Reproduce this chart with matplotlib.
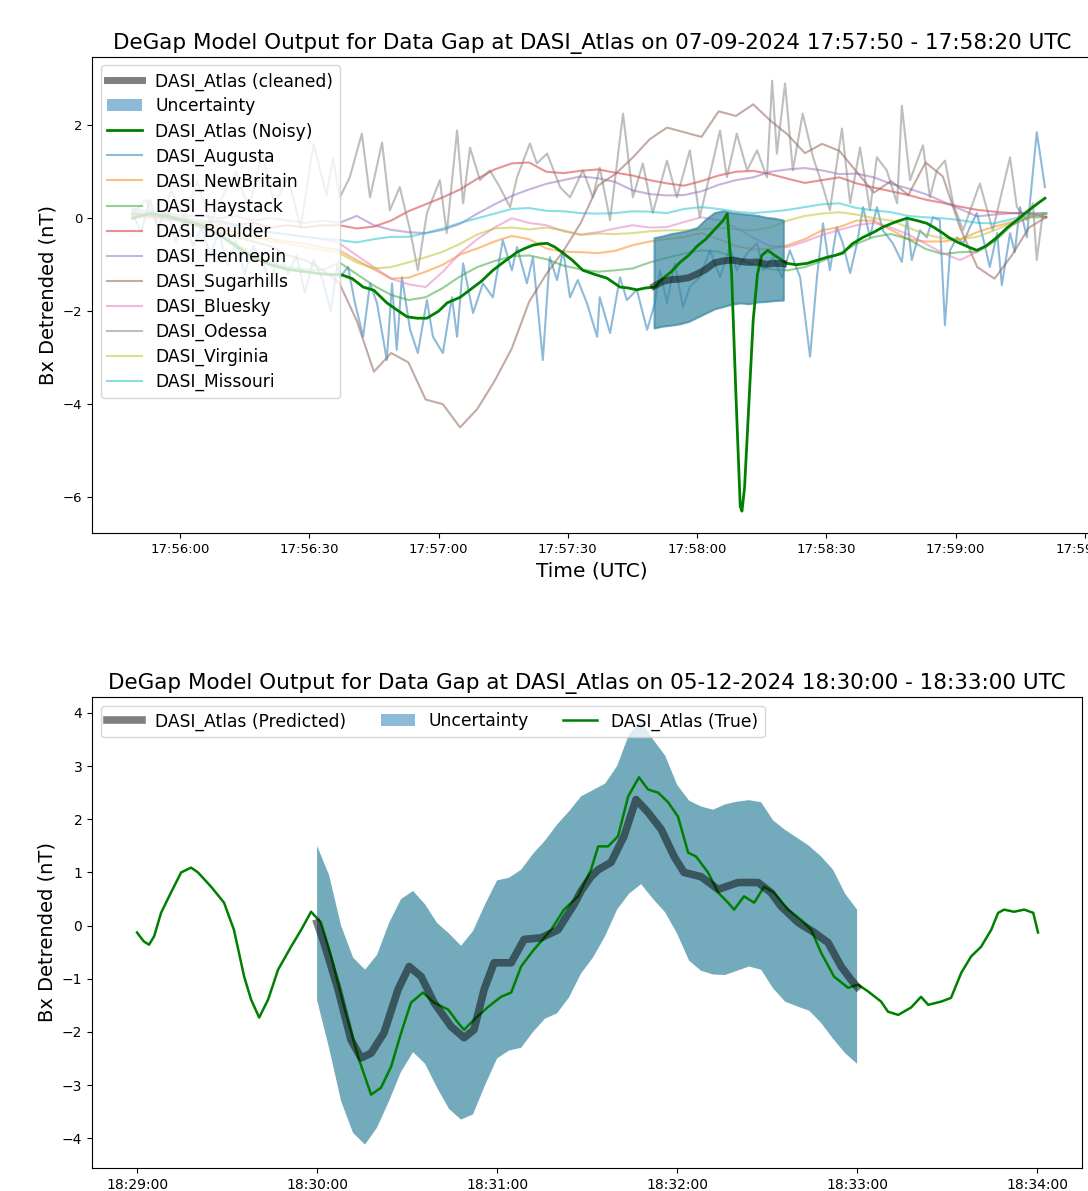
import matplotlib
matplotlib.use('Agg')
import matplotlib.pyplot as plt
import matplotlib.dates as mdates
from matplotlib.patches import Patch
from datetime import datetime, timedelta

# ---- top panel: 07-09-2024, seconds after 17:55:00 ----
grid_t = list(range(49, 262, 4))

new_britain = [0.10, 0.05, 0.0, -0.05, -0.15, -0.25, -0.30, -0.40, -0.45, -0.50, -0.55, -0.62, -0.69, -0.90,
               -1.10, -1.30, -1.28, -1.15, -1.00, -0.78, -0.65, -0.50, -0.38, -0.45, -0.65, -0.72, -0.73, -0.75,
               -0.70, -0.58, -0.50, -0.45, -0.40, -0.32, -0.45, -0.60, -0.67, -0.66, -0.58, -0.45, -0.26, -0.19,
               -0.05, -0.05, -0.25, -0.45, -0.50, -0.50, -0.45, -0.30, -0.18, -0.08, 0.03, 0.10]
haystack = [0.10, 0.05, 0.02, -0.05, -0.20, -0.32, -0.55, -0.80, -0.95, -1.05, -1.10, -1.12, -0.95, -1.20,
            -1.45, -1.65, -1.76, -1.70, -1.50, -1.25, -1.05, -0.92, -0.82, -0.80, -0.88, -1.02, -1.10, -1.15,
            -1.12, -1.08, -0.95, -0.85, -0.76, -0.69, -0.72, -0.85, -1.00, -1.10, -1.12, -1.05, -0.92, -0.76,
            -0.55, -0.40, -0.34, -0.45, -0.66, -0.77, -0.73, -0.72, -0.50, -0.15, 0.02, 0.02]
boulder = [0.10, 0.05, 0.0, -0.05, -0.10, -0.05, -0.15, -0.10, -0.20, -0.15, -0.20, -0.15, -0.15, -0.22,
           -0.18, -0.05, 0.15, 0.30, 0.45, 0.62, 0.85, 1.05, 1.18, 1.20, 1.00, 0.97, 1.02, 1.05, 0.98, 0.92,
           0.82, 0.75, 0.70, 0.80, 0.92, 1.00, 1.02, 0.95, 0.85, 0.76, 0.82, 0.88, 0.75, 0.66, 0.58, 0.50,
           0.40, 0.33, 0.25, 0.18, 0.14, 0.11, 0.10, 0.03]
hennepin = [0.20, 0.15, 0.10, 0.05, 0.05, 0.0, 0.05, -0.05, 0.0, -0.05, -0.10, -0.05, -0.10, 0.05, -0.15,
            -0.25, -0.30, -0.32, -0.25, -0.12, 0.10, 0.30, 0.48, 0.62, 0.74, 0.82, 0.90, 0.86, 0.78, 0.60,
            0.52, 0.49, 0.50, 0.58, 0.72, 0.82, 0.88, 1.00, 1.05, 1.08, 1.03, 0.95, 0.96, 0.88, 0.74, 0.64,
            0.52, 0.36, 0.20, 0.04, 0.08, 0.11, 0.12, 0.10]
sugarhills = [0.05, 0.10, 0.0, -0.10, -0.20, -0.30, -0.40, -0.50, -0.60, -0.80, -0.90, -1.10, -1.40, -2.20,
              -3.30, -2.90, -3.10, -3.90, -4.00, -4.50, -4.10, -3.50, -2.80, -1.80, -1.20, -0.70, -0.10, 0.70,
              0.95, 1.30, 1.70, 1.95, 1.85, 1.75, 2.30, 2.20, 2.45, 2.10, 1.80, 1.40, 1.60, 1.45, 1.00, 0.55,
              0.80, 0.50, 1.20, 0.90, -0.20, -1.05, -1.30, -0.80, -0.20, 0.02]
bluesky = [0.05, 0.0, -0.05, 0.0, -0.10, -0.15, -0.20, -0.25, -0.30, -0.35, -0.40, -0.45, -0.54, -0.80,
           -1.05, -1.30, -1.42, -1.48, -1.15, -0.75, -0.45, -0.20, 0.0, -0.10, -0.15, -0.28, -0.35, -0.30,
           -0.22, -0.15, -0.20, -0.19, -0.08, 0.02, -0.04, -0.20, -0.42, -0.60, -0.62, -0.50, -0.36, -0.25,
           -0.15, -0.10, -0.20, -0.35, -0.55, -0.75, -0.90, -0.72, -0.45, -0.15, 0.05, 0.08]
virginia = [0.15, 0.10, 0.05, 0.0, -0.10, -0.20, -0.30, -0.40, -0.50, -0.55, -0.62, -0.68, -0.75, -0.95,
            -1.08, -1.05, -0.95, -0.84, -0.72, -0.55, -0.35, -0.22, -0.20, -0.24, -0.20, -0.26, -0.36, -0.33,
            -0.34, -0.32, -0.28, -0.26, -0.26, -0.24, -0.20, -0.24, -0.26, -0.20, -0.05, 0.05, 0.10, 0.13,
            0.08, 0.0, -0.05, -0.20, -0.35, -0.43, -0.45, -0.40, -0.26, -0.10, 0.05, 0.11]
missouri = [0.15, 0.10, 0.05, 0.0, -0.05, -0.10, -0.15, -0.25, -0.30, -0.35, -0.40, -0.44, -0.47, -0.52,
            -0.45, -0.40, -0.40, -0.32, -0.22, -0.10, 0.0, 0.10, 0.20, 0.22, 0.16, 0.15, 0.11, 0.10, 0.11,
            0.15, 0.14, 0.11, 0.20, 0.24, 0.20, 0.14, 0.11, 0.14, 0.18, 0.24, 0.30, 0.32, 0.22, 0.17, 0.13,
            0.05, 0.02, 0.0, -0.04, -0.10, -0.11, -0.02, 0.08, 0.11]

augusta_t = [49, 51, 53, 55, 57, 59, 61, 63, 65, 67, 69, 71, 73, 75, 77, 79, 81, 83, 85, 87, 89, 91, 93, 95,
             96.5, 97.1, 99.0, 100.6, 102.5, 104.1, 105.7, 108.0, 109.2, 110.3, 111.5, 113.4, 115.2, 117.3,
             118.7, 121.0, 123.1, 124.3, 125.7, 128.0, 130.3, 132.6, 134.9, 137.0, 138.2, 140.5, 141.9, 144.2,
             145.8, 147.5, 148.9, 150.5, 152.3, 154.4, 156.8, 157.4, 159.8, 162.1, 163.7, 166.0, 168.4, 170.2,
             171.4, 173.0, 174.8, 176.7, 178.3, 180.6, 183.0, 185.3, 187.6, 189.2, 191.6, 193.9, 195.3, 197.6,
             199.7, 201.5, 203.9, 206.2, 207.8, 209.2, 210.8, 212.4, 213.8, 215.5, 217.1, 218.5, 220.1, 221.7,
             223.1, 225.4, 227.5, 228.7, 229.8, 231.7, 233.3, 234.7, 236.3, 237.5, 238.7, 240.3, 241.7, 243.3,
             244.9, 246.3, 247.9, 249.6, 250.7, 252.6, 253.7, 254.9, 256.5, 257.2, 258.8, 260.7]
augusta = [0.10, -0.30, 0.40, -0.20, 0.20, -0.50, 0.0, -0.60, -0.20, -0.80, -0.30, -1.00, -0.50, -1.20, -0.60,
           -0.90, -1.40, -0.70, -1.20, -0.80, -1.60, -0.90, -1.30, -2.00, -1.00, -1.27, -1.05, -1.82, -2.55,
           -1.40, -1.82, -3.05, -1.40, -2.83, -1.27, -2.40, -2.90, -1.76, -2.55, -2.90, -1.70, -2.55, -0.97,
           -2.04, -1.40, -1.70, -0.47, -1.12, -0.62, -1.40, -0.84, -3.05, -0.84, -1.33, -0.69, -1.70, -1.33,
           -1.82, -2.55, -1.70, -2.47, -1.27, -1.76, -1.54, -2.40, -1.82, -1.12, -1.82, -0.97, -1.91, -1.48,
           -1.27, -0.69, -1.27, -0.62, -1.12, -0.75, -0.54, -1.12, -0.84, -1.27, -0.69, -1.27, -2.98, -1.27,
           -0.11, -1.12, -0.19, -0.54, -1.18, -0.54, 0.24, -0.41, 0.24, -0.26, -0.54, -0.94, 0.02, -0.90,
           -0.26, -0.41, 0.02, -0.04, -2.30, -0.69, -0.41, -0.54, -0.19, 0.11, -0.41, -1.05, -0.32, -1.44,
           -0.32, -0.73, 0.24, -0.41, 0.32, 1.85, 0.67]

odessa_t = [49, 52, 55, 58, 61, 64, 67, 70, 73, 76, 79, 82, 85, 88, 91, 94, 95.5, 97.1, 99.4, 102.2, 104.1,
            106.9, 108.7, 111.0, 113.4, 115.2, 117.3, 120.3, 121.9, 124.3, 125.7, 127.3, 129.6, 131.9, 134.2,
            136.6, 138.2, 141.2, 142.8, 145.2, 148.2, 150.5, 153.5, 155.8, 157.4, 159.8, 162.8, 165.1, 167.4,
            169.7, 173.0, 175.3, 178.3, 180.6, 183.7, 185.3, 186.9, 189.2, 191.6, 193.9, 196.2, 197.4, 198.5,
            200.4, 202.2, 204.5, 206.9, 209.2, 210.8, 213.6, 215.5, 217.8, 220.1, 221.7, 224.0, 226.4, 227.5,
            229.4, 232.4, 234.0, 235.6, 237.5, 239.4, 241.7, 245.6, 248.6, 252.6, 254.2, 256.5, 257.9, 258.8,
            260.2]
odessa = [0.10, 0.40, -0.20, 0.60, 0.0, 0.80, -0.10, 0.50, 1.00, 0.20, 1.40, 0.30, 0.90, -0.20, 1.60, 0.50,
          1.30, 0.45, 0.88, 1.82, 0.45, 1.63, 0.17, 0.67, -0.26, -1.12, 0.11, 0.82, -0.32, 1.89, 0.32, 1.52,
          0.82, 1.03, 0.67, 0.24, 0.88, 1.61, 1.18, 1.39, 0.67, 0.45, 1.03, 0.45, 1.09, -0.04, 2.25, 0.45,
          1.18, 0.11, 1.24, 0.45, 1.46, 0.02, 1.24, 1.89, 0.88, 1.82, 1.03, 1.46, 0.88, 2.96, 1.39, 2.90,
          1.03, 2.25, 1.31, 0.67, 0.17, 1.93, 0.32, 1.52, 0.17, 1.31, 1.03, 0.32, 2.42, 0.82, 1.57, 0.45,
          1.03, 1.24, 0.32, -0.26, 0.75, -0.26, 1.31, 0.24, -0.04, 0.32, -0.90, 0.11]

atlas_noisy_t = [49, 53, 57, 61, 65, 69, 73, 77, 81, 85, 89, 93, 97.6, 100, 102.5, 105, 108, 110, 112.7, 115,
                 117.3, 120, 122, 125, 127.3, 130, 132.6, 135, 138.2, 140, 141.9, 143.5, 145.2, 147, 148.9,
                 151, 153.5, 156, 159.1, 162.1, 164, 166, 168, 170.2, 172, 174, 176, 178, 180, 182, 184, 186,
                 187, 188, 189, 190, 190.4, 191, 192, 193, 194, 195, 196.4, 198, 200.8, 203, 205.5, 208,
                 210.1, 212, 213.8, 216, 218.5, 221, 223.1, 226, 228.7, 231, 233.3, 235, 237, 238.5, 240.3,
                 242.5, 244.9, 247, 249.6, 252, 254.2, 256, 257.9, 259.5, 260.7]
atlas_noisy = [0.0, 0.10, 0.05, -0.05, -0.15, -0.35, -0.60, -0.85, -1.00, -1.10, -1.15, -1.20, -1.22, -1.30,
               -1.48, -1.55, -1.82, -1.95, -2.12, -2.15, -2.15, -2.00, -1.82, -1.70, -1.54, -1.35, -1.12, -0.95,
               -0.73, -0.65, -0.58, -0.55, -0.54, -0.62, -0.75, -0.90, -1.12, -1.20, -1.29, -1.48, -1.50, -1.54,
               -1.50, -1.48, -1.30, -1.15, -0.95, -0.80, -0.60, -0.45, -0.25, -0.05, 0.10, -1.20, -3.80, -6.20,
               -6.30, -5.80, -4.00, -2.20, -1.20, -0.80, -0.69, -0.80, -0.97, -1.00, -0.97, -0.90, -0.84, -0.80,
               -0.75, -0.55, -0.41, -0.30, -0.19, -0.08, 0.0, -0.05, -0.11, -0.20, -0.32, -0.42, -0.51, -0.60,
               -0.69, -0.60, -0.41, -0.20, -0.04, 0.10, 0.24, 0.35, 0.43]

gap_t = [170, 172, 174, 176, 178, 180, 182, 184, 186, 188, 190, 192, 194, 196, 198, 200]
cleaned = [-1.46, -1.36, -1.32, -1.31, -1.28, -1.20, -1.10, -0.96, -0.92, -0.90, -0.93, -0.95, -0.94, -0.99,
           -0.97, -0.98]
cleaned_hi = [-0.42, -0.38, -0.33, -0.30, -0.26, -0.20, -0.02, 0.12, 0.16, 0.12, 0.10, 0.08, 0.06, 0.02, 0.0,
              -0.04]
cleaned_lo = [-2.36, -2.32, -2.30, -2.27, -2.22, -2.13, -2.04, -1.95, -1.90, -1.85, -1.82, -1.84, -1.80, -1.79,
              -1.77, -1.76]

# ---- bottom panel: 05-12-2024, seconds after 18:29:00 ----
true_t = [0, 1.3, 2.3, 4, 5.7, 8, 11.3, 14.7, 18, 20.3, 24.7, 29, 32.3, 35.7, 38, 40.7, 43.7, 47, 51.3, 54.7,
          58, 61.3, 64.7, 69, 73.7, 78, 81.3, 84.7, 88, 91.3, 95.3, 99, 103.7, 107, 109, 112.3, 117, 121.3,
          124.7, 128, 132.3, 138, 142.3, 147, 151.3, 153.7, 157, 160.3, 163.7, 167.3, 170.3, 173.7, 177, 180.3,
          183.7, 186.3, 190.3, 193.7, 197, 199, 202.3, 205.7, 209, 212.3, 217, 221.3, 224.7, 228, 232.3, 237,
          240.3, 243.7, 248, 250.3, 253.7, 258, 261.3, 263.7, 268, 271.3, 274.7, 278, 281.3, 284.7, 287, 289,
          292.3, 295.7, 298.7, 300.3]
true_v = [-0.13, -0.23, -0.30, -0.36, -0.20, 0.24, 0.62, 1.00, 1.09, 1.00, 0.73, 0.43, -0.08, -0.96, -1.39,
          -1.73, -1.39, -0.83, -0.40, -0.08, 0.26, 0.06, -0.58, -1.53, -2.47, -3.18, -3.05, -2.65, -2.02, -1.45,
          -1.26, -1.45, -1.58, -1.83, -1.96, -1.77, -1.53, -1.34, -1.26, -0.77, -0.45, -0.08, 0.30, 0.55, 1.05,
          1.49, 1.49, 1.68, 2.43, 2.79, 2.56, 2.50, 2.32, 2.05, 1.37, 1.30, 1.00, 0.62, 0.43, 0.30, 0.55, 0.43,
          0.73, 0.62, 0.30, 0.11, -0.08, -0.51, -0.96, -1.17, -1.11, -1.24, -1.43, -1.62, -1.68, -1.54, -1.34,
          -1.49, -1.43, -1.36, -0.89, -0.58, -0.40, -0.08, 0.24, 0.30, 0.26, 0.30, 0.24, -0.13]

pred_t = [60, 62.3, 67, 71.3, 74.7, 78, 82.3, 87, 90.7, 94.7, 99, 104.7, 109, 112.3, 115.7, 119, 124.7, 129,
          134.7, 140.3, 145.7, 148, 151.3, 153.7, 158, 162.3, 166.3, 170.3, 174.7, 179, 182.3, 188, 193.7,
          200.3, 207, 211.3, 214.7, 220.3, 225.7, 230.3, 234.7, 238, 240]
pred_v = [0.05, -0.32, -1.20, -2.15, -2.49, -2.40, -2.02, -1.20, -0.77, -0.96, -1.45, -1.90, -2.11, -1.96,
          -1.20, -0.70, -0.70, -0.26, -0.23, -0.08, 0.40, 0.65, 0.92, 1.05, 1.19, 1.68, 2.37, 2.13, 1.81, 1.30,
          1.00, 0.92, 0.68, 0.81, 0.81, 0.62, 0.36, 0.06, -0.13, -0.32, -0.77, -1.02, -1.15]

band_t = list(range(60, 241, 4))
band_hi = [1.50, 0.95, 0.0, -0.60, -0.83, -0.55, 0.05, 0.50, 0.65, 0.40, 0.05, -0.15, -0.38, -0.10, 0.40,
           0.85, 0.90, 1.05, 1.35, 1.60, 1.90, 2.15, 2.43, 2.55, 2.67, 3.00, 3.60, 3.85, 3.50, 3.20, 2.65,
           2.35, 2.24, 2.18, 2.28, 2.33, 2.36, 2.32, 1.98, 1.80, 1.65, 1.50, 1.30, 1.05, 0.60, 0.30]
band_lo = [-1.40, -2.30, -3.30, -3.90, -4.12, -3.80, -3.30, -2.75, -2.38, -2.60, -3.05, -3.45, -3.65, -3.55,
           -3.00, -2.50, -2.35, -2.30, -2.00, -1.75, -1.65, -1.35, -0.90, -0.60, -0.20, 0.30, 0.60, 0.78, 0.50,
           0.25, -0.15, -0.66, -0.85, -0.92, -0.93, -0.85, -0.77, -0.83, -1.18, -1.43, -1.52, -1.60, -1.83,
           -2.13, -2.40, -2.60]

t0_top = datetime(2024, 7, 9, 17, 55, 0)
t0_bot = datetime(2024, 5, 12, 18, 29, 0)


def stamp(t0, secs):
    return [t0 + timedelta(seconds=float(s)) for s in secs]


band_color = '#3888a2'
fig = plt.figure(figsize=(10.88, 11.91), dpi=100)

# top panel
ax1 = fig.add_axes([0.0846, 0.5525, 0.919, 0.3997])
ax1.plot(stamp(t0_top, gap_t), cleaned, color='black', alpha=0.5, linewidth=5, zorder=5,
         label='DASI_Atlas (cleaned)')
ax1.fill_between(stamp(t0_top, gap_t), cleaned_lo, cleaned_hi, facecolor=band_color, edgecolor=band_color,
                 linewidth=1.5, alpha=0.7, zorder=3)
ax1.plot(stamp(t0_top, atlas_noisy_t), atlas_noisy, color='green', linewidth=2, zorder=4,
         label='DASI_Atlas (Noisy)')

stations = [
    ('DASI_Augusta', augusta_t, augusta, 'C0'),
    ('DASI_NewBritain', grid_t, new_britain, 'C1'),
    ('DASI_Haystack', grid_t, haystack, 'C2'),
    ('DASI_Boulder', grid_t, boulder, 'C3'),
    ('DASI_Hennepin', grid_t, hennepin, 'C4'),
    ('DASI_Sugarhills', grid_t, sugarhills, 'C5'),
    ('DASI_Bluesky', grid_t, bluesky, 'C6'),
    ('DASI_Odessa', odessa_t, odessa, 'C7'),
    ('DASI_Virginia', grid_t, virginia, 'C8'),
    ('DASI_Missouri', grid_t, missouri, 'C9'),
]
for name, ts, vals, col in stations:
    ax1.plot(stamp(t0_top, ts), vals, color=col, alpha=0.5, linewidth=1.5, zorder=2, label=name)

handles, labels = ax1.get_legend_handles_labels()
handles.insert(1, Patch(facecolor='C0', alpha=0.5))
labels.insert(1, 'Uncertainty')
ax1.legend(handles, labels, loc='upper left', fontsize=12.3, labelspacing=0.4)

ax1.set_xlim(t0_top + timedelta(seconds=39.6), t0_top + timedelta(seconds=271.6))
ax1.set_ylim(-6.77, 3.47)
ax1.xaxis.set_major_locator(mdates.SecondLocator(bysecond=[0, 30]))
ax1.xaxis.set_major_formatter(mdates.DateFormatter('%H:%M:%S'))
ax1.tick_params(labelsize=9.5)
ax1.set_xlabel('Time (UTC)', fontsize=14.5)
ax1.set_ylabel('Bx Detrended (nT)', fontsize=14)
ax1.set_title('DeGap Model Output for Data Gap at DASI_Atlas on 07-09-2024 17:57:50 - 17:58:20 UTC',
              fontsize=15.5)

# bottom panel
ax2 = fig.add_axes([0.0846, 0.0193, 0.910, 0.3955])
ax2.plot(stamp(t0_bot, pred_t), pred_v, color='black', alpha=0.5, linewidth=5.5, zorder=5,
         label='DASI_Atlas (Predicted)')
ax2.fill_between(stamp(t0_bot, band_t), band_lo, band_hi, facecolor=band_color, alpha=0.7, linewidth=0,
                 zorder=3)
ax2.plot(stamp(t0_bot, true_t), true_v, color='green', linewidth=1.8, zorder=4, label='DASI_Atlas (True)')

handles, labels = ax2.get_legend_handles_labels()
handles.insert(1, Patch(facecolor='C0', alpha=0.5))
labels.insert(1, 'Uncertainty')
ax2.legend(handles, labels, loc='upper left', ncol=3, fontsize=12.3)

ax2.set_xlim(t0_bot - timedelta(seconds=15), t0_bot + timedelta(seconds=315))
ax2.set_ylim(-4.56, 4.30)
ax2.xaxis.set_major_locator(mdates.MinuteLocator())
ax2.xaxis.set_major_formatter(mdates.DateFormatter('%H:%M:%S'))
ax2.tick_params(labelsize=10)
ax2.set_ylabel('Bx Detrended (nT)', fontsize=14)
ax2.set_title('DeGap Model Output for Data Gap at DASI_Atlas on 05-12-2024 18:30:00 - 18:33:00 UTC',
              fontsize=15.5)

fig.savefig('out.png', dpi=100)
